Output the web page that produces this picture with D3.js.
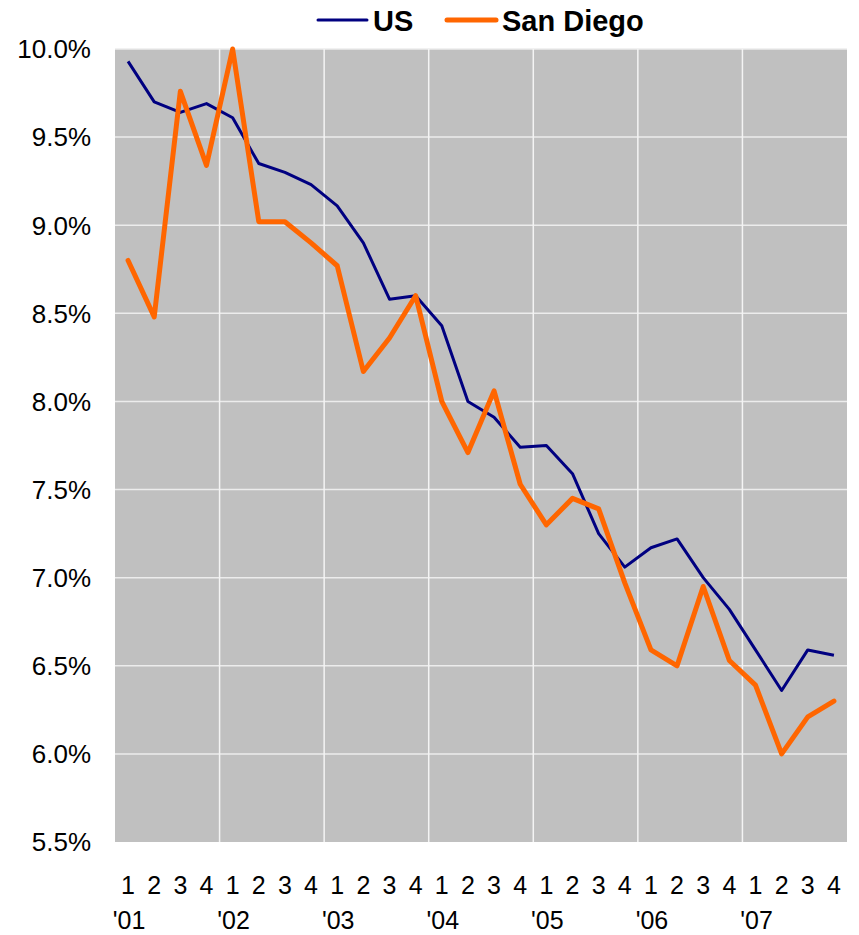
<!DOCTYPE html>
<html>
<head>
<meta charset="utf-8">
<script src="https://cdn.jsdelivr.net/npm/d3@7"></script>
<style>
  body { margin: 0; background: #fff; }
  svg { font-family: "Liberation Sans", Arial, sans-serif; }
</style>
</head>
<body>
<svg id="chart" width="859" height="935"></svg>
<script>
// quarterly rates, Q1 2001 .. Q4 2007
var years = ["'01", "'02", "'03", "'04", "'05", "'06", "'07"];
var quarters = ["1", "2", "3", "4"];
var usRate = [9.93, 9.70, 9.64, 9.69, 9.61, 9.35, 9.30, 9.23,
              9.11, 8.90, 8.58, 8.60, 8.43, 8.00, 7.91, 7.74,
              7.75, 7.59, 7.25, 7.06, 7.17, 7.22, 7.00, 6.82,
              6.59, 6.36, 6.59, 6.56];
var sdRate = [8.80, 8.48, 9.76, 9.34, 10.0, 9.02, 9.02, 8.90,
              8.77, 8.17, 8.36, 8.60, 8.00, 7.71, 8.06, 7.53,
              7.30, 7.45, 7.39, 6.97, 6.59, 6.50, 6.95, 6.53,
              6.39, 6.00, 6.21, 6.30];
var yTicks = [5.5, 6.0, 6.5, 7.0, 7.5, 8.0, 8.5, 9.0, 9.5, 10.0];

var svg = d3.select("#chart");
var plotL = 115, plotR = 847, plotT = 49, plotB = 842;

var idx = d3.range(usRate.length);
var x = d3.scaleBand().domain(idx).range([plotL, plotR]).padding(0);
var xc = function(i) { return x(i) + x.bandwidth() / 2; };
var y = d3.scaleLinear().domain([5.5, 10.0]).range([plotB, plotT]);

svg.append("rect")
    .attr("x", plotL).attr("y", plotT)
    .attr("width", plotR - plotL).attr("height", plotB - plotT)
    .attr("fill", "#c0c0c0");

// horizontal grid
svg.append("g")
  .selectAll("line")
  .data(yTicks.filter(function(d) { return d > 5.5; }))
  .enter().append("line")
    .attr("x1", plotL).attr("x2", plotR)
    .attr("y1", function(d) { return y(d); })
    .attr("y2", function(d) { return y(d); })
    .attr("stroke", "#ececec")
    .attr("stroke-width", 1.5);

// vertical grid at year boundaries
svg.append("g")
  .selectAll("line")
  .data(d3.range(1, years.length))
  .enter().append("line")
    .attr("x1", function(d) { return x(d * 4); })
    .attr("x2", function(d) { return x(d * 4); })
    .attr("y1", plotT).attr("y2", plotB)
    .attr("stroke", "#f4f4f4")
    .attr("stroke-width", 1.5);

// y tick labels
svg.append("g")
  .selectAll("text")
  .data(yTicks)
  .enter().append("text")
    .attr("x", 91)
    .attr("y", function(d) { return y(d); })
    .attr("dy", "0.36em")
    .attr("text-anchor", "end")
    .attr("font-size", 26)
    .text(function(d) { return d.toFixed(1) + "%"; });

// x labels: quarter numbers and years
svg.append("g")
  .selectAll("text")
  .data(idx)
  .enter().append("text")
    .attr("x", function(i) { return xc(i); })
    .attr("y", 894)
    .attr("text-anchor", "middle")
    .attr("font-size", 25)
    .text(function(i) { return quarters[i % 4]; });

svg.append("g")
  .selectAll("text")
  .data(years)
  .enter().append("text")
    .attr("x", function(d, i) { return xc(i * 4) + 1; })
    .attr("y", 929)
    .attr("text-anchor", "middle")
    .attr("font-size", 25)
    .text(function(d) { return d; });

var line = d3.line()
    .x(function(d, i) { return xc(i); })
    .y(function(d) { return y(d); });

svg.append("path")
    .datum(usRate)
    .attr("d", line)
    .attr("fill", "none")
    .attr("stroke", "#000080")
    .attr("stroke-width", 3)
    .attr("stroke-linejoin", "round");

svg.append("path")
    .datum(sdRate)
    .attr("d", line)
    .attr("fill", "none")
    .attr("stroke", "#ff6600")
    .attr("stroke-width", 5)
    .attr("stroke-linejoin", "round")
    .attr("stroke-linecap", "round");

// legend
var legend = [
  {name: "US", color: "#000080", width: 3, x: 318},
  {name: "San Diego", color: "#ff6600", width: 5, x: 447}
];
var lg = svg.append("g").selectAll("g").data(legend).enter().append("g");
lg.append("line")
    .attr("x1", function(d) { return d.x; })
    .attr("x2", function(d) { return d.x + 49; })
    .attr("y1", 20).attr("y2", 20)
    .attr("stroke", function(d) { return d.color; })
    .attr("stroke-width", function(d) { return d.width; })
    .attr("stroke-linecap", "round");
lg.append("text")
    .attr("x", function(d) { return d.x + 55; })
    .attr("y", 31)
    .attr("font-size", 29)
    .attr("font-weight", "bold")
    .text(function(d) { return d.name; });
</script>
</body>
</html>
